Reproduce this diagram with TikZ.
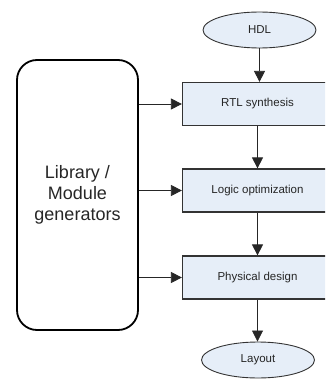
\documentclass[tikz,border=0pt]{standalone}
\usepackage{fontspec}
\setmainfont{Liberation Sans}
\usetikzlibrary{shapes.geometric,arrows.meta}
\definecolor{boxfill}{HTML}{E6EEF8}
\definecolor{edge}{HTML}{333333}
\tikzset{
  stepbox/.style={draw=edge, line width=1.2pt, fill=boxfill, minimum width=150pt, minimum height=43pt, inner sep=0pt, font=\fontsize{11.5}{13}\selectfont, text=black!85},
  term/.style={ellipse, draw=edge, line width=0.9pt, fill=boxfill, minimum width=113pt, minimum height=36pt, inner sep=0pt, font=\fontsize{11.5}{13}\selectfont, text=black!85},
  lib/.style={draw=black, line width=1.8pt, rounded corners=20pt, minimum width=121pt, minimum height=270pt, align=center, inner sep=0pt, font=\fontsize{18}{21}\selectfont, text=black!85},
  conn/.style={draw=black!85, line width=0.8pt, -{Triangle[length=11pt,width=11pt]}}
}
\begin{document}
\begin{tikzpicture}[x=1pt,y=-1pt]
\useasboundingbox (0,0) rectangle (325,385);
\begin{scope}
\clip (0,0) rectangle (325,385);
\node[term] (hdl) at (259.5,30) {HDL};
\node[stepbox] (rtl) at (257.5,104) {RTL synthesis};
\node[stepbox] (logic) at (257.5,190.5) {Logic optimization};
\node[stepbox] (phys) at (257.5,277.5) {Physical design};
\node[term] (layout) at (258,360) {Layout};
\node[lib] (lib) at (77.5,195) {Library /\\Module\\generators};
\draw[conn] (hdl.south) -- (rtl.north -| hdl.south);
\draw[conn] (rtl.south) -- (logic.north);
\draw[conn] (logic.south) -- (phys.north);
\draw[conn] (phys.south) -- (layout.north -| phys.south);
\draw[conn] (lib.east |- rtl.west) -- (rtl.west);
\draw[conn] (lib.east |- logic.west) -- (logic.west);
\draw[conn] (lib.east |- phys.west) -- (phys.west);
\end{scope}
\end{tikzpicture}
\end{document}
